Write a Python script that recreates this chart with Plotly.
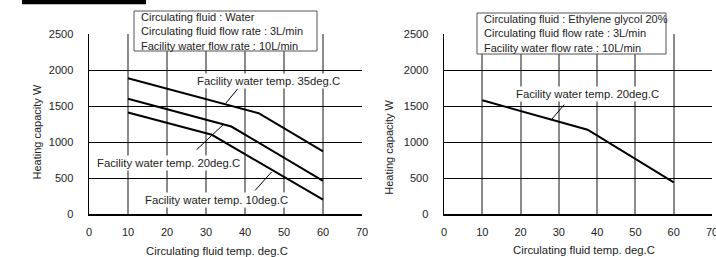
import plotly.graph_objects as go

# ---- data ----
x_ticks = [0, 10, 20, 30, 40, 50, 60, 70]
y_ticks = [0, 500, 1000, 1500, 2000, 2500]

water_10_x = [10, 31.5, 60]
water_10_y = [1410, 1100, 200]
water_20_x = [10, 36.5, 60]
water_20_y = [1600, 1215, 460]
water_35_x = [10, 43.5, 60]
water_35_y = [1885, 1400, 870]
glycol_20_x = [10, 37.5, 60]
glycol_20_y = [1580, 1170, 440]

label_10 = "Facility water temp. 10deg.C"
label_20 = "Facility water temp. 20deg.C"
label_35 = "Facility water temp. 35deg.C"

box_left = ["Circulating fluid : Water",
            "Circulating fluid flow rate : 3L/min",
            "Facility water flow rate : 10L/min"]
box_right = ["Circulating fluid : Ethylene glycol 20%",
             "Circulating fluid flow rate : 3L/min",
             "Facility water flow rate : 10L/min"]

x_title = "Circulating fluid temp. deg.C"
y_title = "Heating capacity W"

# ---- figure ----
W, H = 716, 257
FONT = "Liberation Sans, Arial, sans-serif"
TXT = "#222222"

def px(x):
    return x / W

def py(y):
    return 1 - y / H

fig = go.Figure()
line = dict(color="black", width=2)
for xs, ys in [(water_10_x, water_10_y), (water_20_x, water_20_y), (water_35_x, water_35_y)]:
    fig.add_trace(go.Scatter(x=xs, y=ys, mode="lines", line=line, xaxis="x", yaxis="y",
                             showlegend=False, hoverinfo="skip"))
fig.add_trace(go.Scatter(x=glycol_20_x, y=glycol_20_y, mode="lines", line=line, xaxis="x2", yaxis="y2",
                         showlegend=False, hoverinfo="skip"))

ydom = [py(214), py(34)]
xax = dict(range=[0, 70], tickvals=x_ticks, showgrid=True, gridcolor="#8a8a8a", gridwidth=2,
           zeroline=False, showline=True, linecolor="black", linewidth=2, ticks="",
           ticklabelstandoff=7, tickfont=dict(family=FONT, size=11, color=TXT), fixedrange=True,
           automargin=False, ticklabeloverflow="allow")
yax = dict(range=[0, 2500], tickvals=y_ticks, showgrid=True, gridcolor="black", gridwidth=1,
           zeroline=False, showline=True, linecolor="black", linewidth=1.5, ticks="",
           ticklabelstandoff=12, tickfont=dict(family=FONT, size=11, color=TXT), fixedrange=True,
           automargin=False)

fig.update_layout(
    width=W, height=H, margin=dict(l=0, r=0, t=0, b=0, pad=0), autosize=False,
    paper_bgcolor="white", plot_bgcolor="white",
    font=dict(family=FONT, size=11, color=TXT),
    xaxis=dict(xax, domain=[px(89), px(362)], anchor="y"),
    yaxis=dict(yax, domain=ydom, anchor="x"),
    xaxis2=dict(xax, domain=[px(444), px(712)], anchor="y2"),
    yaxis2=dict(yax, domain=ydom, anchor="x2"),
)

shapes = []
annos = []

# header bar
shapes.append(dict(type="rect", xref="paper", yref="paper", x0=px(22), x1=px(146), y0=py(4.3), y1=py(-2),
                   fillcolor="black", line=dict(width=0)))

# info boxes
for (x0, y0, x1, y1), lines in [((134, 11, 317, 51), box_left), ((477, 13, 666, 54), box_right)]:
    shapes.append(dict(type="rect", xref="paper", yref="paper", x0=px(x0), x1=px(x1), y0=py(y1), y1=py(y0),
                       fillcolor="white", line=dict(color="#555555", width=1), layer="above"))
    annos.append(dict(xref="paper", yref="paper", x=px(x0 + 5), y=py((y0 + y1) / 2), xanchor="left",
                      yanchor="middle", align="left", showarrow=False, text="<br>".join(lines),
                      font=dict(family=FONT, size=11, color=TXT)))

# leader lines (data coordinates)
leaders = [("x", "y", 35.05, 1536, 38.1, 1736),
           ("x", "y", 27.6, 893, 34.4, 1240),
           ("x", "y", 42.6, 328, 46.8, 583),
           ("x2", "y2", 27.9, 1301, 31.4, 1519)]
for xr, yr, x0, y0, x1, y1 in leaders:
    shapes.append(dict(type="line", xref=xr, yref=yr, x0=x0, y0=y0, x1=x1, y1=y1,
                       line=dict(color="black", width=1)))

labels = [("x", "y", 46.0, 1842, label_35),
          ("x", "y", 20.4, 708, label_20),
          ("x", "y", 32.7, 199, label_10),
          ("x2", "y2", 37.5, 1672, label_20)]
for xr, yr, x, y, t in labels:
    annos.append(dict(xref=xr, yref=yr, x=x, y=y, text=t, showarrow=False, bgcolor="white",
                      xanchor="center", yanchor="middle",
                      borderpad=1, font=dict(family=FONT, size=11.3, color=TXT)))

# axis titles
for xc, yc in [(36, 132.5), (388.3, 147.5)]:
    annos.append(dict(xref="paper", yref="paper", x=px(xc), y=py(yc), text=y_title, textangle=-90,
                      xanchor="center", yanchor="middle",
                      showarrow=False, font=dict(family=FONT, size=11, color=TXT)))
for xc, yc in [(217.5, 251), (584, 250)]:
    annos.append(dict(xref="paper", yref="paper", x=px(xc), y=py(yc), text=x_title,
                      xanchor="center", yanchor="middle",
                      showarrow=False, font=dict(family=FONT, size=11.3, color=TXT)))

fig.update_layout(shapes=shapes, annotations=annos)
fig.write_html("out.html", config={"displayModeBar": False, "staticPlot": True},
               post_script="document.body.style.margin='0';document.body.style.overflow='hidden';")
